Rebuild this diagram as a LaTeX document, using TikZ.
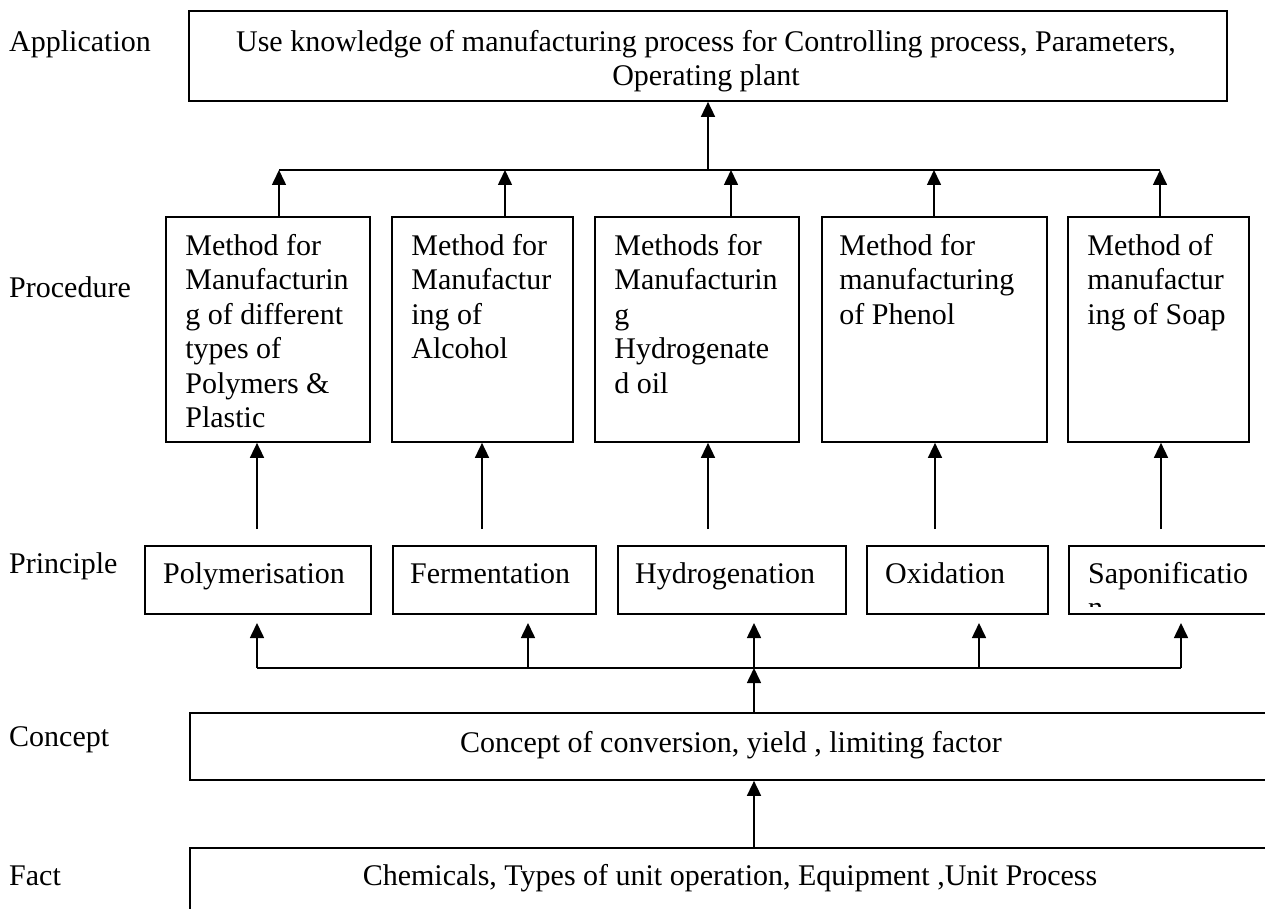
\documentclass[tikz,border=0pt]{standalone}
\usepackage{fontspec}
\setmainfont{Liberation Serif}
\usetikzlibrary{arrows.meta}

\begin{document}
\begin{tikzpicture}[x=1pt,y=-1pt,
  every node/.style={font=\fontsize{30}{34.4}\selectfont, inner sep=0pt},
  box/.style={draw, line width=1.7pt, rectangle},
  link/.style={line width=1.6pt},
  arr/.style={line width=1.6pt, -{Triangle[width=14pt,length=15pt]}},
  lbl/.style={anchor=base west},
  ptext/.style={anchor=north west, align=left},
  qbox/.style={box, minimum height=68pt, anchor=west},
]
\useasboundingbox (0,0) rectangle (1265,909);
\clip (0,0) rectangle (1265,909);

% level labels
\node[lbl] (lapp)  at (9,52)  {Application};
\node[lbl] (lproc) at (9,297) {Procedure};
\node[lbl] (lprin) at (9,573) {Principle};
\node[lbl] (lcon)  at (9,746) {Concept};
\node[lbl] (lfact) at (9,885) {Fact};

% application
\node[box, minimum width=1038pt, minimum height=90pt] (app) at (708,56) {};
\node[align=center, anchor=north] (appt) at (706,30)
  {Use knowledge of manufacturing process for Controlling process, Parameters,\\Operating plant};

% procedures
\node[box, minimum width=204pt, minimum height=225pt] (p1) at (268,329.5) {};
\node[box, minimum width=181pt, minimum height=225pt] (p2) at (482.5,329.5) {};
\node[box, minimum width=204pt, minimum height=225pt] (p3) at (697,329.5) {};
\node[box, minimum width=225pt, minimum height=225pt] (p4) at (934.5,329.5) {};
\node[box, minimum width=181pt, minimum height=225pt] (p5) at (1158.5,329.5) {};
\node[ptext, xshift=20pt, yshift=-18pt] (p1t) at (p1.north west)
  {Method for\\Manufacturin\\g of different\\types of\\Polymers \&\\Plastic};
\node[ptext, xshift=20pt, yshift=-18pt] (p2t) at (p2.north west)
  {Method for\\Manufactur\\ing of\\Alcohol};
\node[ptext, xshift=20pt, yshift=-18pt] (p3t) at (p3.north west)
  {Methods for\\Manufacturin\\g\\Hydrogenate\\d oil};
\node[ptext, xshift=18pt, yshift=-18pt] (p4t) at (p4.north west)
  {Method for\\manufacturing\\of Phenol};
\node[ptext, xshift=20pt, yshift=-18pt] (p5t) at (p5.north west)
  {Method of\\manufactur\\ing of Soap};

% principles
\node[qbox, minimum width=226pt] (q1) at (144,580) {};
\node[qbox, minimum width=203pt] (q2) at (392,580) {};
\node[qbox, minimum width=228pt] (q3) at (617,580) {};
\node[qbox, minimum width=181pt] (q4) at (866,580) {};
\node[qbox, minimum width=232pt] (q5) at (1068,580) {};
\node[lbl, xshift=19pt] (q1t) at (q1.west |- 0,583) {Polymerisation};
\node[lbl, xshift=18pt] (q2t) at (q2.west |- 0,583) {Fermentation};
\node[lbl, xshift=18pt] (q3t) at (q3.west |- 0,583) {Hydrogenation};
\node[lbl, xshift=19pt] (q4t) at (q4.west |- 0,583) {Oxidation};
\begin{scope}
  % the wrapped last letter is cut off by the box
  \clip (1068,546) rectangle (1300,606);
  \node[ptext, xshift=20pt, yshift=-17pt] (q5t) at (q5.north west) {Saponificatio\\n};
\end{scope}

% concept and fact
\node[box, minimum width=1082pt, minimum height=67pt] (con) at (731,746.5) {};
\node[anchor=base] (cont) at (731,752) {Concept of conversion, yield , limiting factor};
\node[box, minimum width=1082pt, minimum height=67pt] (fact) at (731,881.5) {};
\node[anchor=base] (factt) at (730,885) {Chemicals, Types of unit operation, Equipment ,Unit Process};

% upper bus: procedures feed the application
\coordinate (u1) at (279,170);
\coordinate (u2) at (505,170);
\coordinate (u3) at (731,170);
\coordinate (u4) at (934,170);
\coordinate (u5) at (1160,170);
\coordinate (uc) at (708,170);
\draw[link] (u1) -- (u5);
\draw[arr] (uc) -- (uc |- app.south);
\foreach \i in {1,...,5} \draw[arr] (p\i.north -| u\i) -- (u\i);

% principles lead to procedures
\coordinate (a1) at (257,529);
\coordinate (a2) at (482,529);
\coordinate (a3) at (708,529);
\coordinate (a4) at (935,529);
\coordinate (a5) at (1161,529);
\foreach \i in {1,...,5} \draw[arr] (a\i) -- (a\i |- p\i.south);

% lower bus: concept feeds the principles
\coordinate (b1) at (257,668);
\coordinate (b2) at (528,668);
\coordinate (b3) at (754,668);
\coordinate (b4) at (979,668);
\coordinate (b5) at (1181,668);
\coordinate (bt) at (0,623);
\draw[link] (b1) -- (b5);
\foreach \i in {1,...,5} \draw[arr] (b\i) -- (b\i |- bt);
\draw[arr] (con.north -| b3) -- (b3);

% fact feeds the concept
\draw[arr] (fact.north -| b3) -- (con.south -| b3);
\end{tikzpicture}
\end{document}
